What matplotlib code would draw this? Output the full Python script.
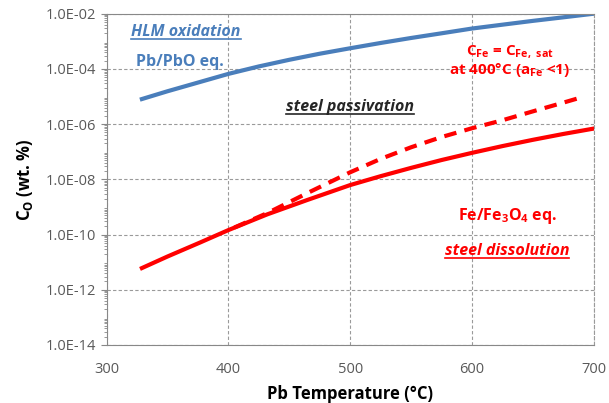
import math
import matplotlib.pyplot as plt
from matplotlib.ticker import LogLocator, FixedLocator, NullFormatter, FuncFormatter
from matplotlib.lines import Line2D

plt.rcParams['font.family'] = ['Open Sans', 'DejaVu Sans']
plt.rcParams['mathtext.fontset'] = 'custom'
plt.rcParams['mathtext.rm'] = 'Open Sans'

# data
temp_pbo = [329, 350, 375, 400, 425, 450, 475, 500, 525, 550, 575, 600, 625, 650, 675, 700]
c_pbo = [8.1e-6, 1.55e-5, 3.2e-5, 6.6e-5, 1.23e-4, 2.14e-4, 3.55e-4, 5.6e-4,
         8.7e-4, 1.32e-3, 1.95e-3, 2.9e-3, 4.0e-3, 5.5e-3, 7.4e-3, 1e-2]

temp_fe = [329, 350, 377, 400, 432, 465, 500, 525, 550, 575, 600, 625, 650, 675, 700]
c_fe = [6.1e-12, 1.6e-11, 5.2e-11, 1.45e-10, 5.4e-10, 1.8e-9, 6.2e-9, 1.3e-8,
        2.6e-8, 5e-8, 9.1e-8, 1.6e-7, 2.7e-7, 4.4e-7, 6.9e-7]

temp_fe_sat = [405, 432, 465, 500, 525, 550, 575, 600, 625, 650, 675, 689]
c_fe_sat = [1.8e-10, 6e-10, 3.2e-9, 1.8e-8, 5.5e-8, 1.45e-7, 3.4e-7, 7.1e-7,
            1.38e-6, 2.9e-6, 6e-6, 9.1e-6]

blue = '#4a7ebb'
red = '#ff0000'
gray = '#595959'

fig = plt.figure(figsize=(6.09, 4.03), dpi=100)
ax = fig.add_axes([0.175, 0.144, 0.800, 0.822])

ax.plot(temp_pbo, c_pbo, color=blue, lw=3)
ax.plot(temp_fe, c_fe, color=red, lw=3)
ax.plot(temp_fe_sat, c_fe_sat, color=red, lw=3, ls=(0, (3, 2)))

ax.set_yscale('log')
ax.set_xlim(300, 700)
ax.set_ylim(1e-14, 1e-2)
ax.xaxis.set_major_locator(FixedLocator([300, 400, 500, 600, 700]))
ax.yaxis.set_major_locator(FixedLocator([10.0 ** e for e in range(-14, -1, 2)]))
ax.yaxis.set_minor_locator(LogLocator(base=10, subs=range(2, 10), numticks=30))
ax.yaxis.set_minor_formatter(NullFormatter())
ax.yaxis.set_major_formatter(FuncFormatter(lambda v, p: '1.0E-%02d' % round(-math.log10(v))))

ax.grid(True, which='major', ls=(0, (3, 2)), color='#9a9a9a', lw=0.8)
ax.tick_params(axis='both', colors=gray, labelsize=10.5)
ax.tick_params(axis='x', length=0, pad=12)
ax.tick_params(axis='y', which='major', length=4, color='#888888')
ax.tick_params(axis='y', which='minor', length=2.5, color='#888888')
for s in ['left', 'bottom', 'top']:
    ax.spines[s].set_color('#888888')
ax.spines['right'].set_color('#9a9a9a')
ax.spines['right'].set_linestyle((0, (3, 2)))
ax.spines['right'].set_linewidth(0.8)

ax.set_xlabel('Pb Temperature (°C)', fontsize=12, fontweight='bold', labelpad=6)
ax.set_ylabel(r'C$_\mathregular{O}$ (wt. %)', fontsize=12, fontweight='bold', labelpad=8)

underlined = []
underlined.append(fig.text(186, 403 - 32, 'HLM oxidation', transform=None, color=blue,
                           fontsize=11.5, fontweight='bold', style='italic', ha='center', va='center'))
fig.text(180, 403 - 62, 'Pb/PbO eq.', transform=None, color=blue,
         fontsize=11.5, fontweight='bold', ha='center', va='center')
underlined.append(fig.text(350, 403 - 107, 'steel passivation', transform=None, color='#262626',
                           fontsize=11.5, fontweight='bold', style='italic', ha='center', va='center'))
fig.text(510, 403 - 52, r'C$_\mathregular{Fe}$ = C$_\mathregular{Fe,\ sat}$', transform=None, color=red,
         fontsize=11, fontweight='bold', ha='center', va='center')
fig.text(510, 403 - 70, r'at 400°C (a$_\mathregular{Fe}$ <1)', transform=None, color=red,
         fontsize=11, fontweight='bold', ha='center', va='center')
fig.text(508, 403 - 216, r'Fe/Fe$_\mathregular{3}$O$_\mathregular{4}$ eq.', transform=None, color=red,
         fontsize=11.5, fontweight='bold', ha='center', va='center')
underlined.append(fig.text(507, 403 - 251, 'steel dissolution', transform=None, color=red,
                           fontsize=11.5, fontweight='bold', style='italic', ha='center', va='center'))

fig.canvas.draw()
r = fig.canvas.get_renderer()
for t in underlined:
    bb = t.get_window_extent(r)
    fig.add_artist(Line2D([bb.x0, bb.x1], [bb.y0 + 1, bb.y0 + 1], transform=None,
                          color=t.get_color(), lw=1.2))

fig.savefig('out.png', dpi=100)
